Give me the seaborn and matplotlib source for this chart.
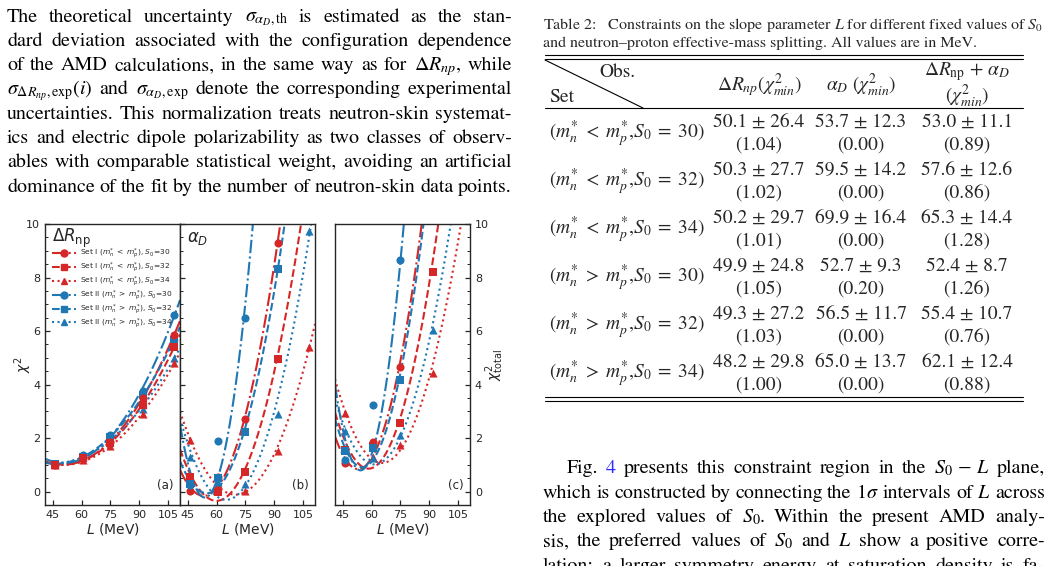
import numpy as np
import pandas as pd
import matplotlib
matplotlib.use("Agg")
import matplotlib.pyplot as plt
import seaborn as sns
from matplotlib.lines import Line2D
from matplotlib.ticker import MultipleLocator

# ---------------- data ----------------
L_MeV = [46, 61, 75, 92, 108]

# panel (a): chi^2 from neutron-skin thickness
dR_I30 = [1.00, 1.25, 1.85, 3.50, 5.85]
dR_I32 = [1.00, 1.25, 1.80, 3.25, 5.40]
dR_I34 = [0.98, 1.20, 1.70, 2.90, 4.80]
dR_II30 = [1.05, 1.35, 2.10, 3.75, 6.60]
dR_II32 = [1.05, 1.30, 2.05, 3.60, 5.65]
dR_II34 = [1.05, 1.30, 2.00, 3.10, 5.00]

# panel (b): chi^2 from alpha_D (values above 10 lie outside the window)
aD_I30 = [0.04, 0.56, 2.70, 9.30, 19.1]
aD_I32 = [0.55, 0.00, 0.75, 4.97, 12.1]
aD_I34 = [1.94, 0.30, 0.04, 1.53, 5.40]
aD_II30 = [0.25, 1.90, 6.50, 23.0, 48.0]
aD_II32 = [0.30, 0.50, 2.22, 8.30, 17.3]
aD_II34 = [1.30, 0.35, 0.29, 2.90, 9.75]

# panel (c): total chi^2
tot_I30 = [1.06, 1.85, 4.66, 13.4, 26.3]
tot_I32 = [1.56, 1.70, 2.56, 8.20, 18.2]
tot_I34 = [2.95, 1.29, 1.76, 4.43, 10.8]
tot_II30 = [1.19, 3.25, 8.65, 25.0, 54.0]
tot_II32 = [1.50, 1.64, 4.16, 13.0, 26.0]
tot_II34 = [2.28, 1.25, 2.10, 6.03, 13.5]

series_labels = [
    r"Set I ($m_n^{*}\;<\;m_p^{*}$), $S_0$=30",
    r"Set I ($m_n^{*}\;<\;m_p^{*}$), $S_0$=32",
    r"Set I ($m_n^{*}\;<\;m_p^{*}$), $S_0$=34",
    r"Set II ($m_n^{*}\;>\;m_p^{*}$), $S_0$=30",
    r"Set II ($m_n^{*}\;>\;m_p^{*}$), $S_0$=32",
    r"Set II ($m_n^{*}\;>\;m_p^{*}$), $S_0$=34",
]
x_ticks = [45, 60, 75, 90, 105]
y_ticks = [0, 2, 4, 6, 8, 10]

# table 2
row_labels = [r"$(m_n^{*}\;<\;m_p^{*}{,}S_0\;=\;30)$", r"$(m_n^{*}\;<\;m_p^{*}{,}S_0\;=\;32)$",
              r"$(m_n^{*}\;<\;m_p^{*}{,}S_0\;=\;34)$", r"$(m_n^{*}\;>\;m_p^{*}{,}S_0\;=\;30)$",
              r"$(m_n^{*}\;>\;m_p^{*}{,}S_0\;=\;32)$", r"$(m_n^{*}\;>\;m_p^{*}{,}S_0\;=\;34)$"]
dR_L = [50.1, 50.3, 50.2, 49.9, 49.3, 48.2]
dR_err = [26.4, 27.7, 29.7, 24.8, 27.2, 29.8]
dR_chi = [1.04, 1.02, 1.01, 1.05, 1.03, 1.00]
aD_L = [53.7, 59.5, 69.9, 52.7, 56.5, 65.0]
aD_err = [12.3, 14.2, 16.4, 9.3, 11.7, 13.7]
aD_chi = [0.00, 0.00, 0.00, 0.20, 0.00, 0.00]
tot_L = [53.0, 57.6, 65.3, 52.4, 55.4, 62.1]
tot_err = [11.1, 12.6, 14.4, 8.7, 10.7, 12.4]
tot_chi = [0.89, 0.86, 1.28, 1.26, 0.76, 0.88]

left_text = [
    r"The theoretical uncertainty $\sigma_{\alpha_D,\mathrm{th}}$ is estimated as the stan-",
    r"dard deviation associated with the configuration dependence",
    r"of the AMD calculations, in the same way as for $\Delta R_{np}$, while",
    r"$\sigma_{\Delta R_{np},\mathrm{exp}}(i)$ and $\sigma_{\alpha_D,\mathrm{exp}}$ denote the corresponding experimental",
    r"uncertainties. This normalization treats neutron-skin systemat-",
    r"ics and electric dipole polarizability as two classes of observ-",
    r"ables with comparable statistical weight, avoiding an artificial",
    r"dominance of the fit by the number of neutron-skin data points.",
]
right_text = [
    r"Fig. §4 presents this constraint region in the $S_0\,-\,L$ plane,",
    r"which is constructed by connecting the 1$\sigma$ intervals of $L$ across",
    r"the explored values of $S_0$.  Within the present AMD analy-",
    r"sis, the preferred values of $S_0$ and $L$ show a positive corre-",
    r"lation: a larger symmetry energy at saturation density is fa-",
]
caption = [
    r"Table 2:   Constraints on the slope parameter $L$ for different fixed values of $S_0$",
    r"and neutron–proton effective-mass splitting. All values are in MeV.",
]

# ---------------- style ----------------
sns.set_style("ticks")
plt.rcParams.update({
    "font.family": ["DejaVu Sans"],
    "xtick.direction": "in", "ytick.direction": "in",
    "xtick.labelsize": 8, "ytick.labelsize": 8,
    "axes.linewidth": 1.0,
})
RED, BLUE = "#d62728", "#1f77b4"
colors = [RED] * 3 + [BLUE] * 3
markers = ["o", "s", "^"] * 2
styles = ["-.", "--", ":"] * 2

W, H = 1052, 566
fig = plt.figure(figsize=(W / 100, H / 100), dpi=100)
fig.patch.set_facecolor("white")
renderer = fig.canvas.get_renderer()


def fx(x):
    return x / W


def fy(y):
    return 1 - y / H


def panel(left, series, red_on_top=False):
    ax = fig.add_axes([fx(left), fy(505), 135 / W, 281 / H])
    ax.set_xlim(41, 111.2)
    ax.set_ylim(-0.5, 10)
    for vals, c, m, ls in zip(series, colors, markers, styles):
        z = 4 if (red_on_top and c == RED) else 3
        df = pd.DataFrame({"L": L_MeV, "chi2": vals})
        sns.regplot(data=df, x="L", y="chi2", order=2, ci=None, truncate=False,
                    ax=ax, color=c, marker=m,
                    scatter_kws=dict(s=34, alpha=1, linewidths=0, zorder=z),
                    line_kws=dict(ls=ls, lw=1.5, zorder=2))
    ax.set_xlim(41, 111.2)
    ax.set_ylim(-0.5, 10)
    ax.set_xticks(x_ticks)
    ax.set_yticks(y_ticks)
    ax.yaxis.set_minor_locator(MultipleLocator(0.5))
    ax.tick_params(which="major", length=3.5, width=0.9)
    ax.tick_params(which="minor", length=2, width=0.7)
    ax.set_xlabel(r"$L$ (MeV)", fontsize=10, labelpad=1)
    ax.set_ylabel("")
    return ax


ax_a = panel(45, [dR_I30, dR_I32, dR_I34, dR_II30, dR_II32, dR_II34], red_on_top=True)
ax_b = panel(180, [aD_I30, aD_I32, aD_I34, aD_II30, aD_II32, aD_II34])
ax_c = panel(335, [tot_I30, tot_I32, tot_I34, tot_II30, tot_II32, tot_II34])

ax_a.set_ylabel(r"$\chi^2$", fontsize=10)
ax_a.yaxis.set_label_coords(-0.085, 0.5)
ax_b.tick_params(labelleft=False)
ax_c.yaxis.tick_right()
ax_c.yaxis.set_label_position("right")
ax_c.set_ylabel(r"$\chi^2_{\rm total}$", fontsize=10, rotation=90)
ax_c.yaxis.set_label_coords(1.10, 0.5)

ax_a.text(0.05, 0.95, r"$\Delta R_{\rm np}$", transform=ax_a.transAxes, fontsize=12, va="center")
ax_b.text(0.05, 0.95, r"$\alpha_D$", transform=ax_b.transAxes, fontsize=12, va="center")
for ax, t in [(ax_a, "(a)"), (ax_b, "(b)"), (ax_c, "(c)")]:
    ax.text(0.955, 0.07, t, transform=ax.transAxes, fontsize=8.5, ha="right", va="center")

handles = [Line2D([], [], color=c, marker=m, ls=ls, lw=1.5, markersize=5)
           for c, m, ls in zip(colors, markers, styles)]
ax_a.legend(handles, series_labels, loc="upper left", bbox_to_anchor=(0.02, 0.935),
            frameon=False, fontsize=5.4, handlelength=3.2, handletextpad=0.5,
            labelspacing=-0.1, borderaxespad=0.2)

# ---------------- paper text ----------------
SERIF = "STIXGeneral"


def tokens_of(line):
    toks, buf = [], None
    for p in line.split(" "):
        if p == "" and buf is None:
            continue
        buf = p if buf is None else buf + " " + p
        if buf.count("$") % 2 == 0:
            toks.append(buf)
            buf = None
    return toks


def put_line(line, x0, x1, y, size, justify=True):
    toks = tokens_of(line)
    objs, ws = [], []
    for t in toks:
        col = "black"
        if t.startswith("§"):
            t, col = t[1:], "#2a2aff"
        o = fig.text(fx(x0), fy(y), t, fontsize=size, family=SERIF,
                     math_fontfamily="stix", color=col, va="baseline", ha="left")
        objs.append(o)
        ws.append(o.get_window_extent(renderer).width)
    if justify and len(toks) > 1:
        gap = (x1 - x0 - sum(ws)) / (len(toks) - 1)
    else:
        gap = size * 100 / 72 * 0.25
    x = x0
    for o, w in zip(objs, ws):
        o.set_x(fx(x))
        x += w + gap


BODY = 14.4
for i, line in enumerate(left_text):
    put_line(line, 7, 512, 21.5 + 24.3 * i, BODY)
for i, line in enumerate(right_text):
    put_line(line, 567 if i == 0 else 543, 1045, 473 + 24.5 * i, BODY)

# caption: single strings, size chosen so the first line spans the column
cap0 = fig.text(fx(543), fy(29.5), caption[0], fontsize=10, family=SERIF,
                math_fontfamily="stix", va="baseline", ha="left")
cap_size = 10 * 502 / cap0.get_window_extent(renderer).width
cap0.set_fontsize(cap_size)
fig.text(fx(543), fy(47), caption[1], fontsize=cap_size, family=SERIF,
         math_fontfamily="stix", va="baseline", ha="left")

# ---------------- table ----------------
TS = 14


def hline(y, x0=545, x1=1023, lw=0.8):
    fig.add_artist(Line2D([fx(x0), fx(x1)], [fy(y), fy(y)], color="black", lw=lw,
                          transform=fig.transFigure))


for yy in (55, 59.3, 108.3, 397.3, 400.7):
    hline(yy)
fig.add_artist(Line2D([fx(545), fx(643)], [fy(60), fy(108)], color="black", lw=0.8,
                      transform=fig.transFigure))


def ttext(x, y, s, ha="center"):
    fig.text(fx(x), fy(y), s, fontsize=TS, family=SERIF, math_fontfamily="stix",
             ha=ha, va="center")


ttext(617, 72, "Obs.")
ttext(562, 97, "Set")
C1, C2, C3 = 759, 861, 967
ttext(C1, 85, r"$\Delta R_{np}(\chi^2_{min})$")
ttext(C2, 85, r"$\alpha_D\ (\chi^2_{min})$")
ttext(C3, 72, r"$\Delta R_{\rm np}$ + $\alpha_D$")
ttext(C3, 96, r"$(\chi^2_{min})$")
for i in range(len(row_labels)):
    yv = 121.7 + 48 * i
    ttext(549, yv + 12, row_labels[i], ha="left")
    for cx, m, e, c in [(C1, dR_L, dR_err, dR_chi), (C2, aD_L, aD_err, aD_chi),
                        (C3, tot_L, tot_err, tot_chi)]:
        ttext(cx, yv, f"{m[i]:.1f} ± {e[i]:.1f}")
        ttext(cx, yv + 23.5, f"({c[i]:.2f})")

fig.savefig("out.png", dpi=100, facecolor="white")
